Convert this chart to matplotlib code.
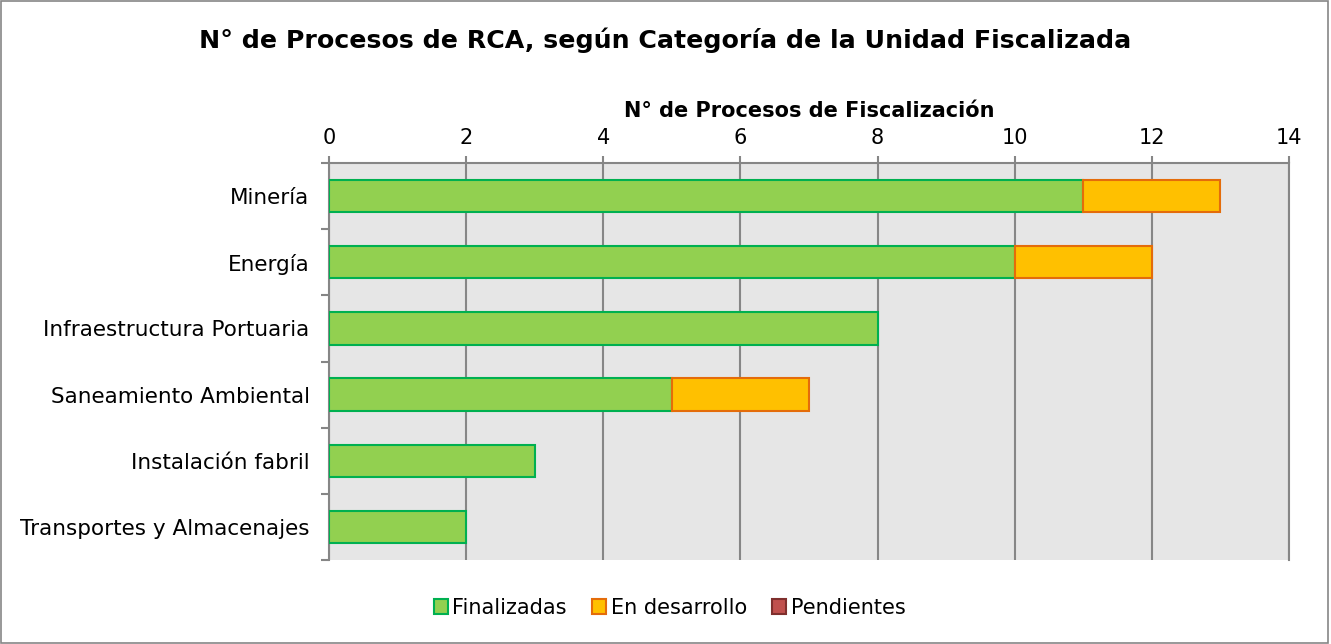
import matplotlib.pyplot as plt
from matplotlib.patches import Rectangle, Patch
import numpy as np

# Datos del gráfico
categorias = ['Minería', 'Energía', 'Infraestructura Portuaria',
              'Saneamiento Ambiental', 'Instalación fabril',
              'Transportes y Almacenajes']
finalizadas = [11, 10, 8, 5, 3, 2]
en_desarrollo = [2, 2, 0, 2, 0, 0]
pendientes = [0, 0, 0, 0, 0, 0]

series = [
    ('Finalizadas', finalizadas, '#92D050', '#00B050'),
    ('En desarrollo', en_desarrollo, '#FFC000', '#E46C0A'),
    ('Pendientes', pendientes, '#C0504D', '#7F2F2D'),
]

plt.rcParams['font.family'] = ['DejaVu Sans']

fig = plt.figure(figsize=(13.31, 6.44), dpi=100)
ax = fig.add_axes([329 / 1331, 1 - 560 / 644, 960 / 1331, 397 / 644])

y = np.arange(len(categorias))
izquierda = np.zeros(len(categorias))
handles = []
for nombre, valores, relleno, borde in series:
    valores = np.array(valores, dtype=float)
    mask = valores > 0
    ax.barh(y[mask], valores[mask], left=izquierda[mask], height=0.49,
            color=relleno, edgecolor=borde, linewidth=1.5, zorder=3)
    handles.append(Patch(facecolor=relleno, edgecolor=borde, linewidth=1.5, label=nombre))
    izquierda += valores

ax.set_xlim(0, 14)
ax.set_ylim(len(categorias) - 0.5, -0.5)
ax.set_facecolor('#E6E6E6')

# Eje X arriba
ax.xaxis.tick_top()
ax.xaxis.set_label_position('top')
ax.set_xticks(range(0, 15, 2))
ax.tick_params(axis='x', which='major', length=5, width=1.5, color='#868686',
               labelsize=15, pad=6)
ax.set_xlabel('N° de Procesos de Fiscalización', fontsize=15,
              fontweight='bold', labelpad=8)
ax.grid(axis='x', color='#868686', linewidth=1.5, zorder=1)
ax.set_axisbelow(True)

# Eje Y con marcas entre categorías
ax.set_yticks(y)
ax.set_yticklabels(categorias, fontsize=15.5)
ax.set_yticks(np.arange(-0.5, len(categorias)), minor=True)
ax.tick_params(axis='y', which='major', length=0, pad=14)
ax.tick_params(axis='y', which='minor', length=6, width=1.5, color='#868686')

ax.spines['bottom'].set_visible(False)
for lado in ['top', 'left', 'right']:
    ax.spines[lado].set_color('#868686')
    ax.spines[lado].set_linewidth(1.5)

fig.suptitle('N° de Procesos de RCA, según Categoría de la Unidad Fiscalizada',
             fontsize=18.2, fontweight='bold', x=0.5, y=1 - 40 / 644, va='center')

fig.legend(handles=handles, loc='center', bbox_to_anchor=(0.503, 1 - 608 / 644), ncol=3,
           frameon=False, fontsize=15, handlelength=0.7, handleheight=0.7,
           handletextpad=0.2, columnspacing=1.2)

# Marco exterior del gráfico
fig.patches.append(Rectangle((0.001, 0.002), 0.997, 0.996, transform=fig.transFigure,
                             fill=False, edgecolor='#868686', linewidth=1.2))

fig.savefig('out.png', dpi=100)
